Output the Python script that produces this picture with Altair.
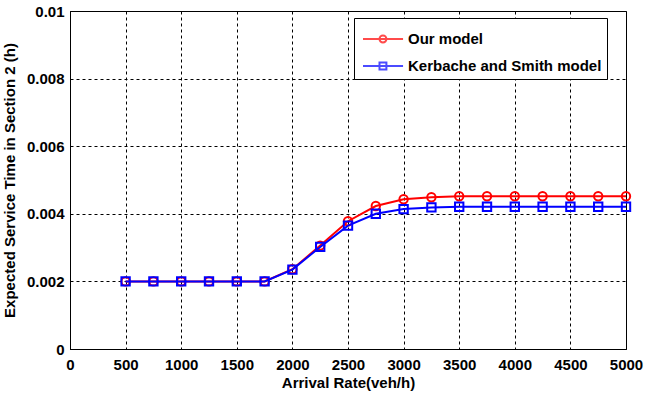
import altair as alt
import pandas as pd

arrival = [500, 750, 1000, 1250, 1500, 1750, 2000, 2250, 2500, 2750, 3000,
           3250, 3500, 3750, 4000, 4250, 4500, 4750, 5000]
our_model = [0.002, 0.002, 0.002, 0.002, 0.002, 0.002, 0.00236, 0.00306, 0.00378,
             0.00423, 0.00443, 0.00449, 0.00452, 0.00452, 0.00452, 0.00452,
             0.00452, 0.00452, 0.00452]
ks_model = [0.002, 0.002, 0.002, 0.002, 0.002, 0.002, 0.00235, 0.00302, 0.00365,
            0.00400, 0.00414, 0.00419, 0.00421, 0.00421, 0.00421, 0.00421,
            0.00421, 0.00421, 0.00421]
series_names = ["Our model", "Kerbache and Smith model"]
series_colors = ["#ff0000", "#0000ff"]
x_ticks = list(range(0, 5001, 500))
y_ticks = [0, 0.002, 0.004, 0.006, 0.008, 0.01]

df = pd.concat([
    pd.DataFrame({"x": arrival, "y": our_model, "series": series_names[0]}),
    pd.DataFrame({"x": arrival, "y": ks_model, "series": series_names[1]}),
])

FONT = "Liberation Sans"

xenc = alt.X("x:Q", scale=alt.Scale(domain=[0, 5000], nice=False),
             axis=alt.Axis(values=x_ticks, format="d", title="Arrival Rate(veh/h)",
                           titlePadding=3, labelPadding=8, labelFlush=False,
                           labelOverlap=False))
yenc = alt.Y("y:Q", scale=alt.Scale(domain=[0, 0.01], nice=False),
             axis=alt.Axis(values=y_ticks, format=".3~f",
                           title="Expected Service Time in Section 2 (h)",
                           titlePadding=9, labelPadding=6, labelFlush=False,
                           labelOverlap=False))

base = alt.Chart(df)
layers = []
for name, col in zip(series_names, series_colors):
    sub = base.transform_filter(alt.datum.series == name)
    layers.append(sub.mark_line(color=col, strokeWidth=2).encode(x=xenc, y=yenc))
    shape = "circle" if name == series_names[0] else "square"
    layers.append(sub.mark_point(shape=shape, color=col, filled=False, size=70,
                                 strokeWidth=2, opacity=1).encode(x=xenc, y=yenc))

circle_path = "M-0.8,0H1.87M0.3,0A0.23,0.23 0 1,0 0.76,0A0.23,0.23 0 1,0 0.3,0"
square_path = "M-0.8,0H1.87M0.3,-0.23H0.76V0.23H0.3Z"

legend_layer = base.transform_filter("false").mark_point(filled=False, strokeWidth=2).encode(
    x=xenc, y=yenc,
    color=alt.Color("series:N", scale=alt.Scale(domain=series_names, range=series_colors),
                    legend=alt.Legend(title=None, orient="none", legendX=284, legendY=7,
                                      strokeColor="black", fillColor="white", padding=5,
                                      symbolSize=900, symbolStrokeWidth=2,
                                      labelOffset=17, rowPadding=3, labelLimit=400,
                                      labelFontSize=15, labelFont=FONT,
                                      labelFontWeight="bold", labelColor="black")),
    shape=alt.Shape("series:N", scale=alt.Scale(domain=series_names,
                                                range=[circle_path, square_path])),
)
layers.append(legend_layer)

chart = alt.layer(*layers).properties(
    width=556, height=338,
    autosize=alt.AutoSizeParams(type="none"),
    padding={"left": 70, "top": 11, "right": 22, "bottom": 47},
    background="white",
).configure_view(stroke="black", strokeWidth=1).configure_axis(
    labelFont=FONT, labelFontSize=15, labelFontWeight="bold", labelColor="black",
    titleFont=FONT, titleFontSize=15, titleFontWeight="bold", titleColor="black",
    grid=True, gridColor="black", gridDash=[3, 3], gridOpacity=1, gridWidth=1,
    domainColor="black", domainWidth=1, ticks=False,
)

chart.save("out.html", embed_options={"renderer": "svg", "actions": False})
